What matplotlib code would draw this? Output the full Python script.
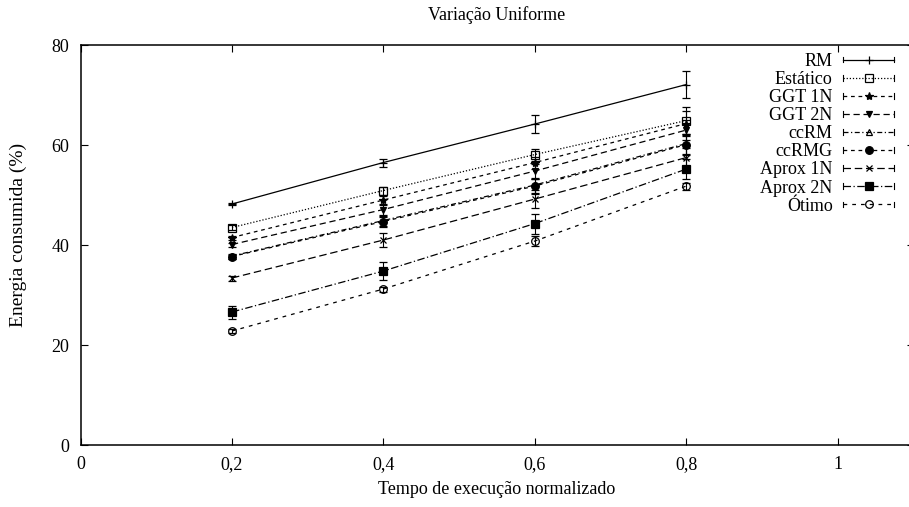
import matplotlib
matplotlib.use("Agg")
import matplotlib.pyplot as plt
from matplotlib.lines import Line2D
from matplotlib.legend_handler import HandlerLine2D

# data
x = [0.2, 0.4, 0.6, 0.8]
labels = ["RM", "Estático", "GGT 1N", "GGT 2N", "ccRM", "ccRMG",
          "Aprox 1N", "Aprox 2N", "Ótimo"]
rm = [48.2, 56.5, 64.2, 72.1]
estatico = [43.5, 50.9, 58.1, 64.9]
ggt1n = [41.5, 49.0, 56.5, 64.3]
ggt2n = [40.1, 47.1, 54.8, 63.0]
ccrm = [37.8, 44.9, 52.0, 60.3]
ccrmg = [37.7, 44.7, 51.8, 60.1]
aprox1n = [33.4, 41.0, 49.2, 57.5]
aprox2n = [26.6, 34.8, 44.3, 55.2]
otimo = [22.8, 31.2, 40.8, 51.8]
series = [rm, estatico, ggt1n, ggt2n, ccrm, ccrmg, aprox1n, aprox2n, otimo]

err_rm = [0.3, 0.8, 1.8, 2.7]
err_estatico = [0.5, 0.8, 1.2, 2.8]
err_ggt1n = [0.4, 0.8, 1.2, 2.5]
err_ggt2n = [0.4, 1.0, 1.5, 2.0]
err_ccrm = [0.5, 1.0, 1.5, 2.0]
err_ccrmg = [0.4, 1.0, 1.5, 2.0]
err_aprox1n = [0.5, 1.4, 1.8, 2.0]
err_aprox2n = [1.3, 1.8, 2.0, 2.0]
err_otimo = [0.4, 0.5, 1.0, 0.7]
errors = [err_rm, err_estatico, err_ggt1n, err_ggt2n, err_ccrm, err_ccrmg,
          err_aprox1n, err_aprox2n, err_otimo]

styles = [
    ("-", "+", "k", 6),
    ((0, (1, 1.5)), "s", "none", 5.5),
    ((0, (3, 3)), "*", "k", 6),
    ((0, (5, 3)), "v", "k", 5),
    ((0, (4, 2, 1, 2)), "^", "none", 5),
    ((0, (3, 3)), "o", "k", 5.5),
    ((0, (6, 3)), "x", "k", 5),
    ((0, (6, 2, 1, 2)), "s", "k", 6),
    ((0, (3, 4)), "o", "none", 5.5),
]


class TickLine(HandlerLine2D):
    # gnuplot-style key sample: line with small vertical ticks at both ends
    def create_artists(self, legend, orig_handle, xdescent, ydescent,
                       width, height, fontsize, trans):
        arts = super().create_artists(legend, orig_handle, xdescent, ydescent,
                                      width, height, fontsize, trans)
        y = height / 2 - ydescent
        h = height * 0.22
        for xx in (-xdescent, -xdescent + width):
            t = Line2D([xx, xx], [y - h, y + h], color="black", lw=0.8)
            t.set_transform(trans)
            arts.append(t)
        return arts


plt.rcParams["font.family"] = ["Liberation Serif", "DejaVu Serif"]
plt.rcParams["font.size"] = 13

fig = plt.figure(figsize=(9.09, 5.07), dpi=100)
ax = fig.add_axes([80.5 / 909, 62 / 507, (913.7 - 80.5) / 909, 400 / 507])

handles = []
for lab, ys, es, (ls, mk, mfc, ms) in zip(labels, series, errors, styles):
    c = ax.errorbar(x, ys, yerr=es, color="black", ls=ls, lw=0.9,
                    marker=mk, mfc=mfc, mec="black", ms=ms, mew=0.9,
                    capsize=3, elinewidth=0.8, capthick=0.8, label=lab)
    handles.append(c[0])

ax.set_xlim(0, 1.1)
ax.set_ylim(0, 80)
ax.set_xticks([0, 0.2, 0.4, 0.6, 0.8, 1.0])
ax.set_xticklabels(["0", "0,2", "0,4", "0,6", "0,8", "1"])
ax.set_yticks([0, 20, 40, 60, 80])
ax.tick_params(direction="in", length=5, width=0.8, top=True, right=True,
               pad=8)
for s in ax.spines.values():
    s.set_linewidth(1.1)

ax.set_xlabel("Tempo de execução normalizado", labelpad=6)
ax.set_ylabel("Energia consumida (%)", fontsize=14)
ax.yaxis.set_label_coords(-0.064, 0.525)
ax.set_title("Variação Uniforme", fontsize=13, pad=18)

ax.legend(handles=handles, labels=labels, loc="upper right",
          bbox_to_anchor=(894 / 909, 1 - 53 / 507),
          bbox_transform=fig.transFigure, frameon=False, markerfirst=False,
          handlelength=2.8, handletextpad=0.6, labelspacing=0.06,
          borderaxespad=0, borderpad=0,
          handler_map={Line2D: TickLine(numpoints=1)})

fig.savefig("out.png", dpi=100)
